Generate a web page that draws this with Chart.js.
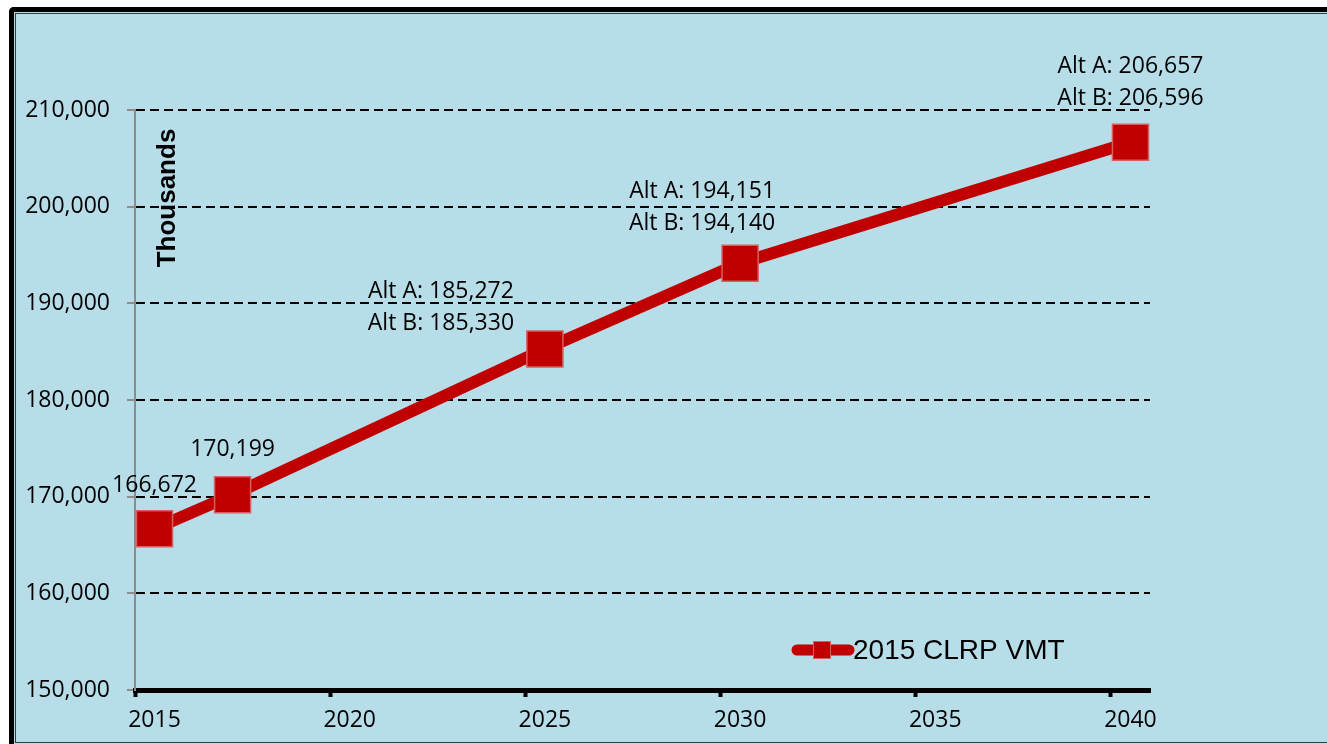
<!DOCTYPE html>
<html>
<head>
<meta charset="utf-8">
<script src="https://cdn.jsdelivr.net/npm/chart.js@4.4.1/dist/chart.umd.min.js"></script>
<style>
    body { margin: 0; background: #fff; overflow: hidden; }
    .frame-outer {
        position: absolute; left: 9px; top: 7px; width: 1400px; height: 760px;
        border-left: 5px solid #000; border-top: 5px solid #000;
        border-top-left-radius: 5px; background: #b7dde8;
    }
    .frame-inner {
        position: absolute; left: 15px; top: 13px; width: 1400px; height: 728px;
        border: 1px solid #2b3f44; background: #b7dde8;
    }
    #chart { position: absolute; left: 0; top: 0; }
</style>
</head>
<body>
<div class="frame-outer"></div>
<div class="frame-inner"></div>
<canvas id="chart" width="1327" height="744"></canvas>
<script>
// Chart data
const years = [2015, 2017, 2025, 2030, 2040];
const vmtValues = [166672, 170199, 185272, 194151, 206657];
const altAValues = [null, null, 185272, 194151, 206657];
const altBValues = [null, null, 185330, 194140, 206596];
const xTickLabels = ['2015', '2020', '2025', '2030', '2035', '2040'];
const seriesName = '2015 CLRP VMT';

// Styles
const RED = '#c00000';
const LABEL_FONT = '23px "Open Sans"';
// label offsets from each point (dx, dy of first line centre)
const labelOffsets = [[0, -43], [0, -45], [-104, -58], [-38, -72], [0, -76]];

const fmt = v => v.toLocaleString('en-US');

// Value labels + axis title + legend
const annotations = {
    id: 'annotations',
    afterDatasetsDraw(chart) {
        const ctx = chart.ctx;
        const pts = chart.getDatasetMeta(0).data;
        ctx.save();
        ctx.fillStyle = '#000';
        ctx.font = LABEL_FONT;
        ctx.textAlign = 'center';
        ctx.textBaseline = 'middle';
        pts.forEach((p, i) => {
            const x = p.x + labelOffsets[i][0];
            const y = p.y + labelOffsets[i][1];
            if (altAValues[i] !== null) {
                ctx.fillText('Alt A: ' + fmt(altAValues[i]), x, y);
                ctx.fillText('Alt B: ' + fmt(altBValues[i]), x, y + 32);
            } else {
                ctx.fillText(fmt(vmtValues[i]), x, y);
            }
        });

        // Thousands
        ctx.save();
        ctx.translate(168, 198);
        ctx.rotate(-Math.PI / 2);
        ctx.font = 'bold 26px "Liberation Sans"';
        ctx.fillText('Thousands', 0, 0);
        ctx.restore();

        // Legend
        ctx.strokeStyle = RED;
        ctx.lineWidth = 11;
        ctx.lineCap = 'round';
        ctx.beginPath();
        ctx.moveTo(797, 650);
        ctx.lineTo(849, 650);
        ctx.stroke();
        ctx.fillStyle = RED;
        ctx.fillRect(813, 641, 18, 18);
        ctx.strokeStyle = '#d46060';
        ctx.lineWidth = 1;
        ctx.strokeRect(813.5, 641.5, 17, 17);
        ctx.fillStyle = '#000';
        ctx.font = '28px "Liberation Sans"';
        ctx.textAlign = 'left';
        ctx.fillText(seriesName, 853, 651);
        ctx.restore();
    }
};

new Chart(document.getElementById('chart'), {
    type: 'line',
    data: {
        datasets: [{
            label: seriesName,
            data: years.map((y, i) => ({ x: y, y: vmtValues[i] })),
            borderColor: RED,
            borderWidth: 12,
            backgroundColor: RED,
            pointStyle: 'rect',
            pointRadius: 25.5,
            pointBackgroundColor: RED,
            pointBorderColor: '#d46060',
            pointBorderWidth: 1.5,
            tension: 0,
            clip: false
        }]
    },
    options: {
        responsive: false,
        animation: false,
        layout: { padding: { left: 0, top: 110, right: 177, bottom: 0 } },
        plugins: {
            legend: { display: false },
            tooltip: { enabled: false }
        },
        scales: {
            x: {
                type: 'linear',
                min: 2014.5,
                max: 2040.5,
                afterBuildTicks: scale => {
                    scale.ticks = xTickLabels.map(l => ({ value: Number(l) - 0.5 }));
                },
                afterFit: scale => { scale.height = 54; },
                grid: {
                    drawOnChartArea: false,
                    drawTicks: true,
                    tickLength: 7,
                    tickWidth: 4,
                    tickColor: '#000'
                },
                border: { color: '#000', width: 5 },
                ticks: {
                    callback: (v, i) => xTickLabels[i],
                    labelOffset: 19.5,
                    padding: 10,
                    color: '#000',
                    font: { family: 'Open Sans', size: 23 },
                    maxRotation: 0,
                    autoSkip: false
                }
            },
            y: {
                min: 150000,
                max: 210000,
                afterFit: scale => { scale.width = 135; },
                grid: {
                    color: '#000',
                    lineWidth: 2,
                    tickLength: 8,
                    tickColor: '#8c8c8c',
                    tickWidth: 2
                },
                border: { color: '#8c8c8c', width: 2, dash: [9, 5] },
                ticks: {
                    stepSize: 10000,
                    callback: v => fmt(v),
                    padding: 17,
                    color: '#000',
                    font: { family: 'Open Sans', size: 23 }
                }
            }
        }
    },
    plugins: [annotations]
});
</script>
</body>
</html>
